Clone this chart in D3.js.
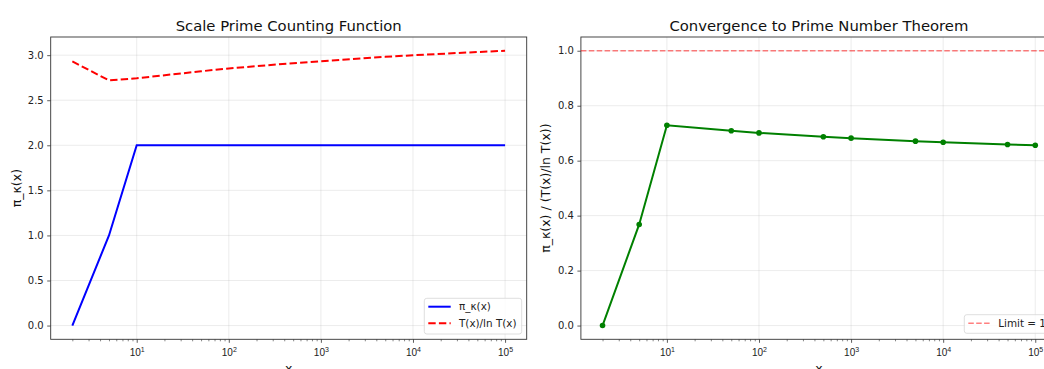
<!DOCTYPE html>
<html><head><meta charset="utf-8">
<script src="https://cdn.jsdelivr.net/npm/d3@7"></script>
<style>
html,body{margin:0;padding:0;background:#fff;overflow:hidden}
svg{display:block;font-family:"DejaVu Sans",sans-serif}
</style></head>
<body>
<svg id="chart" width="1044" height="369"></svg>
<script>
// ---- data ----
const xValues = [2, 5, 10, 50, 100, 500, 1000, 5000, 10000, 50000, 100000];
const piKappa = [0, 1, 2, 2, 2, 2, 2, 2, 2, 2, 2];
const tOverLnT = [2.93, 2.72, 2.744, 2.821, 2.853, 2.911, 2.933, 2.981, 2.999, 3.035, 3.049];
const ratio = [0, 0.368, 0.729, 0.709, 0.701, 0.687, 0.682, 0.671, 0.667, 0.659, 0.656];
const limitValue = 1;
const leftYTicks = [0, 0.5, 1.0, 1.5, 2.0, 2.5, 3.0];
const rightYTicks = [0, 0.2, 0.4, 0.6, 0.8, 1.0];
const xMajorTicks = [10, 100, 1000, 10000, 100000];
const titles = ["Scale Prime Counting Function", "Convergence to Prime Number Theorem"];
const yLabels = ["π_κ(x)", "π_κ(x) / (T(x)/ln T(x))"];
const xLabel = "x";
const legendLeft = ["π_κ(x)", "T(x)/ln T(x)"];
const legendRight = ["Limit = 1"];

const svg = d3.select("#chart");
const plotTop = 37, plotBottom = 339.3;
const panels = [{x0: 50.7, x1: 526.7}, {x0: 580.9, x1: 1056.9}];

function logDomain(vals) {
  const lo = Math.log10(d3.min(vals)), hi = Math.log10(d3.max(vals));
  const m = (hi - lo) * 0.05;
  return [Math.pow(10, lo - m), Math.pow(10, hi + m)];
}
function linDomain(lo, hi) {
  const m = (hi - lo) * 0.05;
  return [lo - m, hi + m];
}

function drawPanel(p, xs, yDomain, yTicks, fmt, title, ylabel, ylabelX) {
  const g = svg.append("g");
  const x = d3.scaleLog().domain(logDomain(xs)).range([p.x0, p.x1]);
  const y = d3.scaleLinear().domain(yDomain).range([plotBottom, plotTop]);
  // grid
  g.append("g").selectAll("line").data(xMajorTicks).join("line")
    .attr("x1", d => x(d)).attr("x2", d => x(d)).attr("y1", plotTop).attr("y2", plotBottom)
    .attr("stroke", "#b0b0b0").attr("stroke-opacity", 0.3).attr("stroke-width", 0.8);
  g.append("g").selectAll("line").data(yTicks).join("line")
    .attr("x1", p.x0).attr("x2", p.x1).attr("y1", d => y(d)).attr("y2", d => y(d))
    .attr("stroke", "#b0b0b0").attr("stroke-opacity", 0.3).attr("stroke-width", 0.8);
  // axes
  const yAxis = d3.axisLeft(y).tickValues(yTicks).tickFormat(fmt).tickSize(3.5).tickPadding(3.5);
  const ya = g.append("g").attr("transform", `translate(${p.x0},0)`).call(yAxis);
  ya.select(".domain").remove();
  ya.selectAll("text").attr("font-size", 10).attr("fill", "#222").attr("font-family", "DejaVu Sans");
  ya.selectAll("line").attr("stroke", "#333").attr("stroke-width", 0.8);
  // minor x ticks
  const [d0, d1] = x.domain();
  const minors = [];
  for (let e = Math.floor(Math.log10(d0)); e <= Math.ceil(Math.log10(d1)); e++) {
    for (let k = 2; k <= 9; k++) {
      const v = k * Math.pow(10, e);
      if (v >= d0 && v <= d1) minors.push(v);
    }
  }
  const xMinor = d3.axisBottom(x).tickValues(minors).tickFormat("").tickSize(2);
  const xm = g.append("g").attr("transform", `translate(0,${plotBottom})`).call(xMinor);
  xm.select(".domain").remove();
  xm.selectAll("line").attr("stroke", "#333").attr("stroke-width", 0.6);
  const xAxis = d3.axisBottom(x).tickValues(xMajorTicks).tickFormat("").tickSize(3.5);
  const xa = g.append("g").attr("transform", `translate(0,${plotBottom})`).call(xAxis);
  xa.select(".domain").remove();
  xa.selectAll("line").attr("stroke", "#333").attr("stroke-width", 0.8);
  xa.selectAll(".tick").append("text")
    .attr("y", 16.7).attr("fill", "#222").attr("text-anchor", "middle")
    .attr("font-size", 10)
    .each(function(d) {
      const t = d3.select(this);
      t.append("tspan").text("10");
      t.append("tspan").attr("font-size", 7).attr("dy", -4.2).text(String(Math.round(Math.log10(d))));
    });
  // frame
  g.append("rect").attr("x", p.x0).attr("y", plotTop).attr("width", p.x1 - p.x0).attr("height", plotBottom - plotTop)
    .attr("fill", "none").attr("stroke", "#333").attr("stroke-width", 0.9);
  // title & labels
  g.append("text").attr("x", (p.x0 + p.x1) / 2).attr("y", 30.7).attr("text-anchor", "middle")
    .attr("font-size", 14.8).attr("fill", "#111").text(title);
  g.append("text").attr("transform", `translate(${ylabelX},${(plotTop + plotBottom) / 2}) rotate(-90)`)
    .attr("text-anchor", "middle").attr("dy", "0.35em").attr("font-size", 12.5).attr("fill", "#111").text(ylabel);
  g.append("text").attr("x", (p.x0 + p.x1) / 2).attr("y", 373).attr("text-anchor", "middle")
    .attr("font-size", 12.5).attr("fill", "#111").text(xLabel);
  return {g, x, y};
}

// ---- left panel ----
const L = drawPanel(panels[0], xValues, linDomain(0, d3.max(tOverLnT)), leftYTicks, d3.format(".1f"),
  titles[0], yLabels[0], 16.2);
const lineL = d3.line().x((d, i) => L.x(xValues[i])).y(d => L.y(d));
L.g.append("path").datum(piKappa).attr("d", lineL).attr("fill", "none")
  .attr("stroke", "#0000ff").attr("stroke-width", 2);
L.g.append("path").datum(tOverLnT).attr("d", lineL).attr("fill", "none")
  .attr("stroke", "#ff0000").attr("stroke-width", 2).attr("stroke-dasharray", "7.4,3.2");

// legend left
{
  const lx = 424.3, ly = 298.3, lw = 97.4, lh = 35.7;
  const lg = L.g.append("g");
  lg.append("rect").attr("x", lx).attr("y", ly).attr("width", lw).attr("height", lh).attr("rx", 2.5)
    .attr("fill", "#fff").attr("fill-opacity", 0.8).attr("stroke", "#d5d5d5").attr("stroke-width", 0.8);
  const styles = [{c: "#0000ff", dash: null}, {c: "#ff0000", dash: "7.4,3.2"}];
  legendLeft.forEach((name, i) => {
    const yy = ly + 8.4 + i * 16.6;
    lg.append("line").attr("x1", lx + 4).attr("x2", lx + 26.4).attr("y1", yy).attr("y2", yy)
      .attr("stroke", styles[i].c).attr("stroke-width", 2).attr("stroke-dasharray", styles[i].dash);
    lg.append("text").attr("x", lx + 34.7).attr("y", yy).attr("dy", "0.35em")
      .attr("font-size", 10.4).attr("fill", "#222").text(name);
  });
}

// ---- right panel ----
const R = drawPanel(panels[1], xValues, linDomain(0, limitValue), rightYTicks, d3.format(".1f"),
  titles[1], yLabels[1], 546);
R.g.append("line").attr("x1", panels[1].x0).attr("x2", panels[1].x1)
  .attr("y1", R.y(limitValue)).attr("y2", R.y(limitValue))
  .attr("stroke", "#ff0000").attr("stroke-opacity", 0.5).attr("stroke-width", 1.5).attr("stroke-dasharray", "5.5,2.4");
const lineR = d3.line().x((d, i) => R.x(xValues[i])).y(d => R.y(d));
R.g.append("path").datum(ratio).attr("d", lineR).attr("fill", "none")
  .attr("stroke", "#008000").attr("stroke-width", 2);
R.g.append("g").selectAll("circle").data(ratio).join("circle")
  .attr("cx", (d, i) => R.x(xValues[i])).attr("cy", d => R.y(d)).attr("r", 2.8)
  .attr("fill", "#008000");

// legend right
{
  const lx = 964.3, ly = 314.7, lw = 87.7, lh = 18.6;
  const lg = R.g.append("g");
  lg.append("rect").attr("x", lx).attr("y", ly).attr("width", lw).attr("height", lh).attr("rx", 2.5)
    .attr("fill", "#fff").attr("fill-opacity", 0.8).attr("stroke", "#d5d5d5").attr("stroke-width", 0.8);
  const yy = ly + 8.6;
  lg.append("line").attr("x1", lx + 4).attr("x2", lx + 26.4).attr("y1", yy).attr("y2", yy)
    .attr("stroke", "#ff0000").attr("stroke-opacity", 0.5).attr("stroke-width", 1.5).attr("stroke-dasharray", "5.5,2.4");
  lg.append("text").attr("x", lx + 34).attr("y", yy).attr("dy", "0.35em")
    .attr("font-size", 10.4).attr("fill", "#222").text(legendRight[0]);
}
</script>
</body></html>
